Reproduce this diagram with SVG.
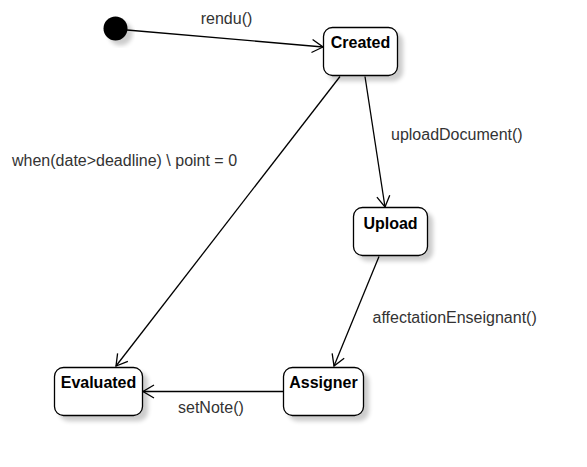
<svg xmlns="http://www.w3.org/2000/svg" width="587" height="467" viewBox="0 0 587 467">
<style>
.st{fill:#fff;stroke:#000;stroke-width:1.3}
.nl{font-family:"Liberation Sans",Arial,sans-serif;font-size:16px;font-weight:bold;fill:#000;text-anchor:middle}
.el{font-family:"Liberation Sans",Arial,sans-serif;font-size:16px;fill:#333}
.cn{fill:none;stroke:#000;stroke-width:1.3}
</style>
<defs>
<filter id="sh" x="-30%" y="-30%" width="160%" height="160%">
<feGaussianBlur in="SourceAlpha" stdDeviation="2"/>
<feOffset dx="5" dy="5" result="b"/>
<feComponentTransfer><feFuncA type="linear" slope="0.2"/></feComponentTransfer>
<feMerge><feMergeNode/><feMergeNode in="SourceGraphic"/></feMerge>
</filter>
<marker id="ar" markerWidth="14" markerHeight="16" refX="12" refY="8" orient="auto" markerUnits="userSpaceOnUse">
<path d="M1,1.5 L12,8 L1,14.5" fill="none" stroke="#000" stroke-width="1.3"/>
</marker>
</defs>
<g id="connectors">
<path class="cn" d="M127,30 L323,47" marker-end="url(#ar)"/>
<path class="cn" d="M340,76.5 L116,366" marker-end="url(#ar)"/>
<path class="cn" d="M365,76.5 L385,207" marker-end="url(#ar)"/>
<path class="cn" d="M379,256.5 L334,366" marker-end="url(#ar)"/>
<path class="cn" d="M283,391.5 L143,391.5" marker-end="url(#ar)"/>
<text class="el" x="226.5" y="24" text-anchor="middle">rendu()</text>
<text class="el" x="12" y="166">when(date&gt;deadline) \ point = 0</text>
<text class="el" x="391" y="140">uploadDocument()</text>
<text class="el" x="372.5" y="323">affectationEnseignant()</text>
<text class="el" x="178" y="413">setNote()</text>
</g>
<g id="initial">
<circle cx="115.5" cy="28.5" r="12" fill="#000" filter="url(#sh)"/>
</g>
<g id="created">
<rect class="st" x="323.5" y="27.5" width="74" height="48" rx="9" filter="url(#sh)"/>
<text class="nl" x="360.5" y="47.5">Created</text>
</g>
<g id="upload">
<rect class="st" x="353.5" y="207.5" width="74" height="48" rx="9" filter="url(#sh)"/>
<text class="nl" x="390.5" y="228.5">Upload</text>
</g>
<g id="assigner">
<rect class="st" x="283.5" y="367.5" width="80" height="48" rx="9" filter="url(#sh)"/>
<text class="nl" x="323.5" y="388">Assigner</text>
</g>
<g id="evaluated">
<rect class="st" x="54.5" y="367.5" width="88" height="48" rx="9" filter="url(#sh)"/>
<text class="nl" x="98.5" y="388">Evaluated</text>
</g>
</svg>
